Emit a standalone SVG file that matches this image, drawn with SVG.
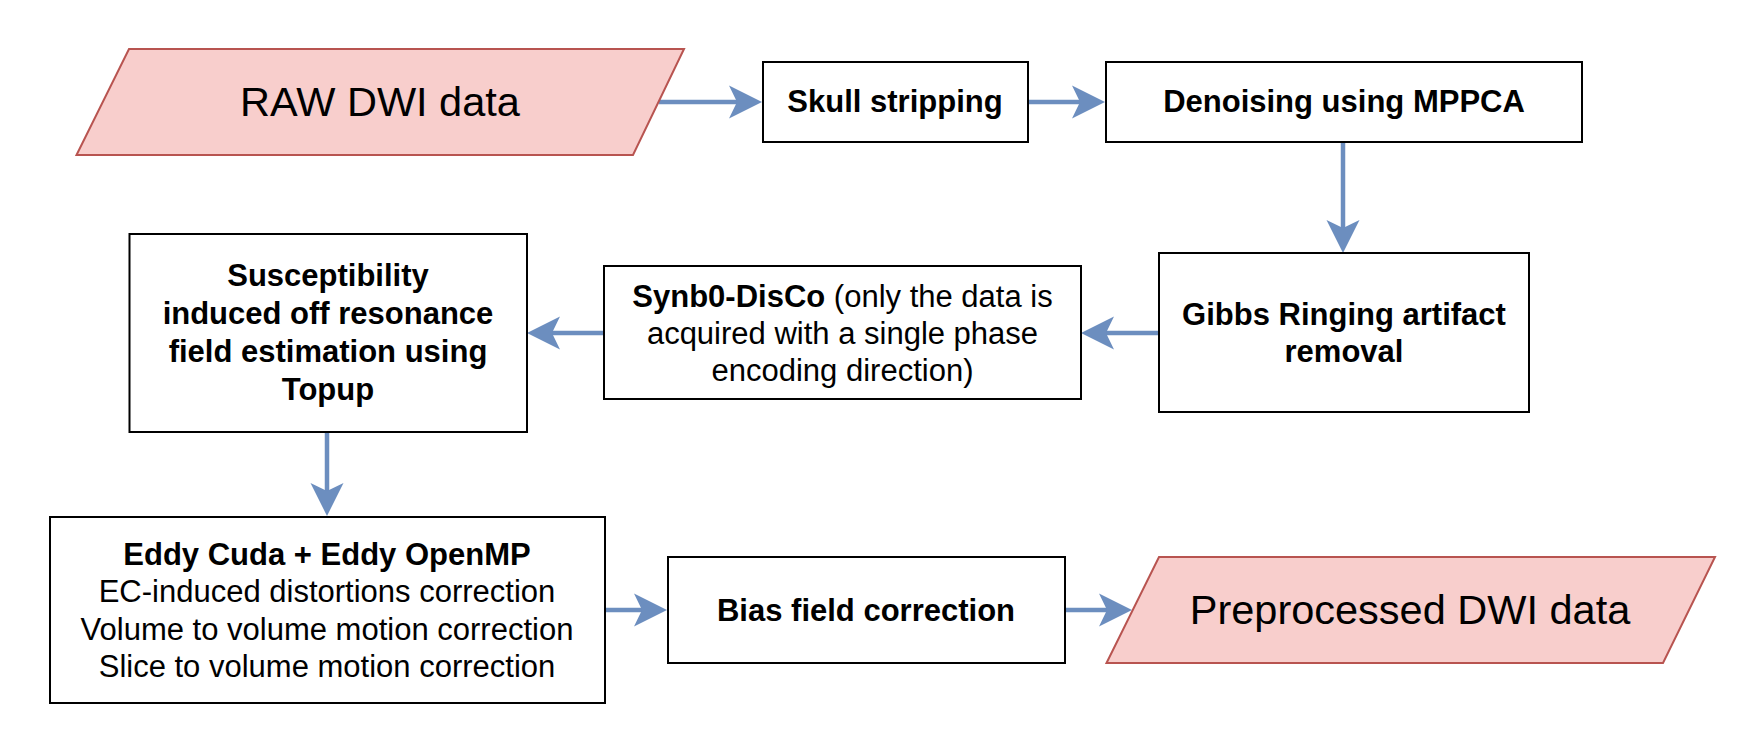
<svg xmlns="http://www.w3.org/2000/svg" width="1739" height="734" viewBox="0 0 1739 734">
<style>
text{font-family:"Liberation Sans",Arial,sans-serif;fill:#000;text-anchor:middle}
.b{font-weight:bold;font-size:31px}
.r{font-size:31px}
.big{font-size:41.5px}
.box{fill:#fff;stroke:#000;stroke-width:2}
.io{fill:#f8cecc;stroke:#b85450;stroke-width:2}
.edge{fill:none;stroke:#6c8ebf;stroke-width:4.5}
</style>
<defs>
<marker id="ah" markerUnits="userSpaceOnUse" markerWidth="34" markerHeight="34" refX="8" refY="16.5" orient="auto" viewBox="0 0 34 34" overflow="visible">
<path d="M0,0 L33,16.5 L0,33 L8,16.5 Z" fill="#6c8ebf"/>
</marker>
</defs>
<rect width="1739" height="734" fill="#fff"/>
<g id="connectors">
<path class="edge" d="M659,102 L737,102" marker-end="url(#ah)"/>
<path class="edge" d="M1028,102 L1080,102" marker-end="url(#ah)"/>
<path class="edge" d="M1343,142 L1343,228" marker-end="url(#ah)"/>
<path class="edge" d="M1159,333 L1106,333" marker-end="url(#ah)"/>
<path class="edge" d="M604,333 L552,333" marker-end="url(#ah)"/>
<path class="edge" d="M327,432 L327,491" marker-end="url(#ah)"/>
<path class="edge" d="M605,610 L642,610" marker-end="url(#ah)"/>
<path class="edge" d="M1065,610 L1107,610" marker-end="url(#ah)"/>
</g>
<g id="raw">
<polygon class="io" points="129,49 684,49 633,155 76.5,155"/>
<text class="big" x="380" y="116">RAW DWI data</text>
</g>
<g id="skull">
<rect class="box" x="763" y="62" width="265" height="80"/>
<text class="b" x="895" y="112">Skull stripping</text>
</g>
<g id="denoise">
<rect class="box" x="1106" y="62" width="476" height="80"/>
<text class="b" x="1344" y="112">Denoising using MPPCA</text>
</g>
<g id="gibbs">
<rect class="box" x="1159" y="253" width="370" height="159"/>
<text class="b" x="1344" y="325">Gibbs Ringing artifact</text>
<text class="b" x="1344" y="362">removal</text>
</g>
<g id="synb0">
<rect class="box" x="604" y="266" width="477" height="133"/>
<text class="r" x="842.5" y="307"><tspan font-weight="bold">Synb0-DisCo</tspan> (only the data is</text>
<text class="r" x="842.5" y="344">acquired with a single phase</text>
<text class="r" x="842.5" y="381">encoding direction)</text>
</g>
<g id="susceptibility">
<rect class="box" x="129.5" y="234" width="397.5" height="198"/>
<text class="b" x="328" y="286">Susceptibility</text>
<text class="b" x="328" y="324">induced off resonance</text>
<text class="b" x="328" y="362">field estimation using</text>
<text class="b" x="328" y="400">Topup</text>
</g>
<g id="eddy">
<rect class="box" x="50" y="517" width="555" height="186"/>
<text class="b" x="327" y="565">Eddy Cuda + Eddy OpenMP</text>
<text class="r" x="327" y="602">EC-induced distortions correction</text>
<text class="r" x="327" y="639.5">Volume to volume motion correction</text>
<text class="r" x="327" y="677">Slice to volume motion correction</text>
</g>
<g id="bias">
<rect class="box" x="668" y="557" width="397" height="106"/>
<text class="b" x="866" y="621">Bias field correction</text>
</g>
<g id="preprocessed">
<polygon class="io" points="1159,557 1715,557 1663,663 1106.5,663"/>
<text class="big" x="1410" y="624">Preprocessed DWI data</text>
</g>
</svg>
